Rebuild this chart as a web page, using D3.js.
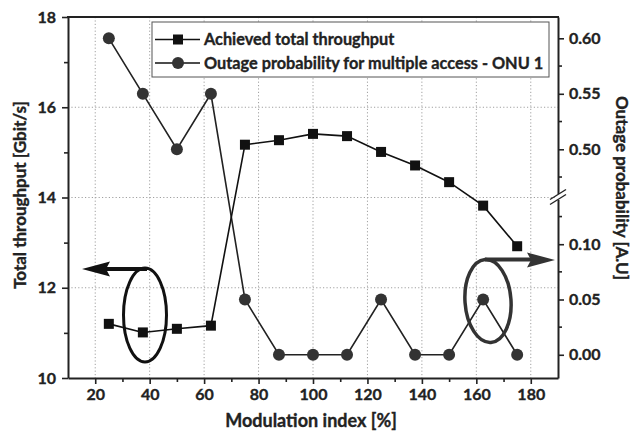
<!DOCTYPE html>
<html>
<head>
<meta charset="utf-8">
<script src="https://cdn.jsdelivr.net/npm/d3@7"></script>
<style>
  html, body { margin: 0; padding: 0; background: #fff; }
  svg { display: block; }
  text { font-family: Lato, "Open Sans", sans-serif; font-weight: 700; fill: #222; stroke: #222; stroke-width: 0.35px; }
</style>
</head>
<body>
<svg id="chart" width="636" height="432"></svg>
<script>
// Modulation index (%) sampled in both series
const modulationIndex = [25, 37.5, 50, 62.5, 75, 87.5, 100, 112.5, 125, 137.5, 150, 162.5, 175];
// Achieved total throughput, Gbit/s
const throughput = [11.2, 11.01, 11.09, 11.16, 15.17, 15.27, 15.41, 15.36, 15.01, 14.71, 14.34, 13.82, 12.92];
// Outage probability for multiple access, ONU 1
const outage = [0.60, 0.55, 0.50, 0.55, 0.05, 0.00, 0.00, 0.00, 0.05, 0.00, 0.00, 0.05, 0.00];

const xTicks = [20, 40, 60, 80, 100, 120, 140, 160, 180];
const xMinorTicks = [30, 50, 70, 90, 110, 130, 150, 170];
const yLeftTicks = [10, 12, 14, 16, 18];
const yLeftMinorTicks = [11, 13, 15, 17];
const yRightLowTicks = [0.00, 0.05, 0.10];
const yRightHighTicks = [0.50, 0.55, 0.60];
const yRightMinorTicks = [0.025, 0.075, 0.125, 0.475, 0.525, 0.575];

const legendLabels = ["Achieved total throughput", "Outage probability for multiple access - ONU 1"];

const svg = d3.select("#chart");
const L = 68, R = 558, T = 17, B = 378;
const breakY = 197;

const x = d3.scaleLinear().domain([10, 190]).range([L, R]);
const yL = d3.scaleLinear().domain([10, 18]).range([B, T]);
// broken right axis: lower and upper segments
const yRLow = d3.scaleLinear().domain([-0.021, 0.1427]).range([B, breakY]);
const yRHigh = d3.scaleLinear().domain([0.457, 0.6192]).range([breakY, T]);
const yR = v => (v < 0.3 ? yRLow(v) : yRHigh(v));

// grid
const grid = svg.append("g").attr("stroke", "#a0a0a0").attr("stroke-width", 1)
  .attr("stroke-dasharray", "1.2,2.2");
xTicks.forEach(t => grid.append("line").attr("x1", x(t)).attr("x2", x(t)).attr("y1", T).attr("y2", B));
[12, 14, 16].forEach(t => grid.append("line").attr("x1", L).attr("x2", R).attr("y1", yL(t)).attr("y2", yL(t)));

function styleAxis(g) {
  g.select(".domain").attr("stroke", "#222").attr("stroke-width", 2);
  g.selectAll(".tick line").attr("stroke", "#222").attr("stroke-width", 1.6);
  g.selectAll(".tick text").style("font-size", "16px").attr("fill", "#222");
}

// bottom axis
const gx = svg.append("g").attr("transform", `translate(0,${B})`)
  .call(d3.axisBottom(x).tickValues(xTicks).tickSize(6).tickSizeOuter(0).tickPadding(5).tickFormat(d3.format("d")));
styleAxis(gx);
svg.append("g").attr("transform", `translate(0,${B})`)
  .call(d3.axisBottom(x).tickValues(xMinorTicks).tickSize(4).tickSizeOuter(0).tickFormat(""))
  .call(g => { g.select(".domain").remove(); g.selectAll("line").attr("stroke", "#222").attr("stroke-width", 1.6); });

// left axis
const gy = svg.append("g").attr("transform", `translate(${L},0)`)
  .call(d3.axisLeft(yL).tickValues(yLeftTicks).tickSize(6).tickSizeOuter(0).tickPadding(6).tickFormat(d3.format("d")));
styleAxis(gy);
svg.append("g").attr("transform", `translate(${L},0)`)
  .call(d3.axisLeft(yL).tickValues(yLeftMinorTicks).tickSize(4).tickSizeOuter(0).tickFormat(""))
  .call(g => { g.select(".domain").remove(); g.selectAll("line").attr("stroke", "#222").attr("stroke-width", 1.6); });

// top frame
svg.append("line").attr("x1", L - 1).attr("x2", R + 1).attr("y1", T).attr("y2", T)
  .attr("stroke", "#222").attr("stroke-width", 2);

// right axis, two segments
const fmt2 = d3.format(".2f");
const gr1 = svg.append("g").attr("transform", `translate(${R},0)`)
  .call(d3.axisRight(yRLow).tickValues(yRightLowTicks).tickSize(6).tickSizeOuter(0).tickPadding(5).tickFormat(fmt2));
styleAxis(gr1);
const gr2 = svg.append("g").attr("transform", `translate(${R},0)`)
  .call(d3.axisRight(yRHigh).tickValues(yRightHighTicks).tickSize(6).tickSizeOuter(0).tickPadding(5).tickFormat(fmt2));
styleAxis(gr2);
svg.append("g").attr("transform", `translate(${R},0)`)
  .selectAll("line").data(yRightMinorTicks).join("line")
  .attr("x1", 0).attr("x2", 4).attr("y1", d => yR(d)).attr("y2", d => yR(d))
  .attr("stroke", "#222").attr("stroke-width", 1.6);

// axis break mark
const brk = svg.append("g");
brk.append("rect").attr("x", R - 3).attr("y", breakY - 3).attr("width", 6).attr("height", 6).attr("fill", "#fff");
[-2.5, 2.5].forEach(d => brk.append("line")
  .attr("x1", R - 8).attr("y1", breakY + 5 + d).attr("x2", R + 8).attr("y2", breakY - 5 + d)
  .attr("stroke", "#222").attr("stroke-width", 1.4));

// series lines
const lineT = d3.line().x((d, i) => x(modulationIndex[i])).y(d => yL(d));
const lineO = d3.line().x((d, i) => x(modulationIndex[i])).y(d => yR(d));

svg.append("path").datum(outage).attr("d", lineO).attr("fill", "none")
  .attr("stroke", "#222").attr("stroke-width", 1.6);
svg.append("path").datum(throughput).attr("d", lineT).attr("fill", "none")
  .attr("stroke", "#111").attr("stroke-width", 1.6);

svg.append("g").selectAll("circle").data(outage).join("circle")
  .attr("cx", (d, i) => x(modulationIndex[i])).attr("cy", d => yR(d)).attr("r", 6)
  .attr("fill", "#333");
svg.append("g").selectAll("rect").data(throughput).join("rect")
  .attr("x", (d, i) => x(modulationIndex[i]) - 5).attr("y", d => yL(d) - 5)
  .attr("width", 10).attr("height", 10).attr("fill", "#111");

// annotation ellipses and arrows
const ann = svg.append("g");
ann.append("ellipse").attr("cx", 145).attr("cy", 315).attr("rx", 21.5).attr("ry", 47)
  .attr("fill", "none").attr("stroke", "#111").attr("stroke-width", 3);
ann.append("line").attr("x1", 147).attr("x2", 106).attr("y1", 269).attr("y2", 269)
  .attr("stroke", "#111").attr("stroke-width", 4);
ann.append("path").attr("d", "M82,269 L110,261.5 L106,269 L110,276.5 Z").attr("fill", "#111");

ann.append("ellipse").attr("cx", 488).attr("cy", 301).attr("rx", 23).attr("ry", 41.5)
  .attr("transform", "rotate(-4,488,301)")
  .attr("fill", "none").attr("stroke", "#333").attr("stroke-width", 3.5);
ann.append("line").attr("x1", 485).attr("x2", 531).attr("y1", 259.5).attr("y2", 259.5)
  .attr("stroke", "#333").attr("stroke-width", 4);
ann.append("path").attr("d", "M555,260 L527,252.5 L531,260 L527,267.5 Z").attr("fill", "#333");

// legend
const lg = svg.append("g");
lg.append("rect").attr("x", 152).attr("y", 22).attr("width", 397).attr("height", 55)
  .attr("fill", "#fff").attr("stroke", "#555").attr("stroke-width", 1);
[39.5, 63].forEach((yy, i) => {
  lg.append("line").attr("x1", 155).attr("x2", 200).attr("y1", yy).attr("y2", yy)
    .attr("stroke", "#111").attr("stroke-width", 1.6);
  if (i === 0) {
    lg.append("rect").attr("x", 173).attr("y", yy - 5).attr("width", 10).attr("height", 10).attr("fill", "#111");
  } else {
    lg.append("circle").attr("cx", 178).attr("cy", yy).attr("r", 6).attr("fill", "#333");
  }
  lg.append("text").attr("x", 204).attr("y", yy).attr("dy", "0.36em")
    .style("font-size", "16.3px").text(legendLabels[i]);
});

// axis titles
svg.append("text").attr("transform", "translate(20,195) rotate(-90)")
  .attr("text-anchor", "middle").attr("dy", "0.36em").style("font-size", "17px")
  .text("Total throughput [Gbit/s]");
svg.append("text").attr("transform", "translate(622,188) rotate(90)")
  .attr("text-anchor", "middle").attr("dy", "0.36em").style("font-size", "17px")
  .text("Outage probability [A.U]");
svg.append("text").attr("x", 311).attr("y", 421)
  .attr("text-anchor", "middle").attr("dy", "0.36em").style("font-size", "18px")
  .text("Modulation index [%]");
</script>
</body>
</html>
